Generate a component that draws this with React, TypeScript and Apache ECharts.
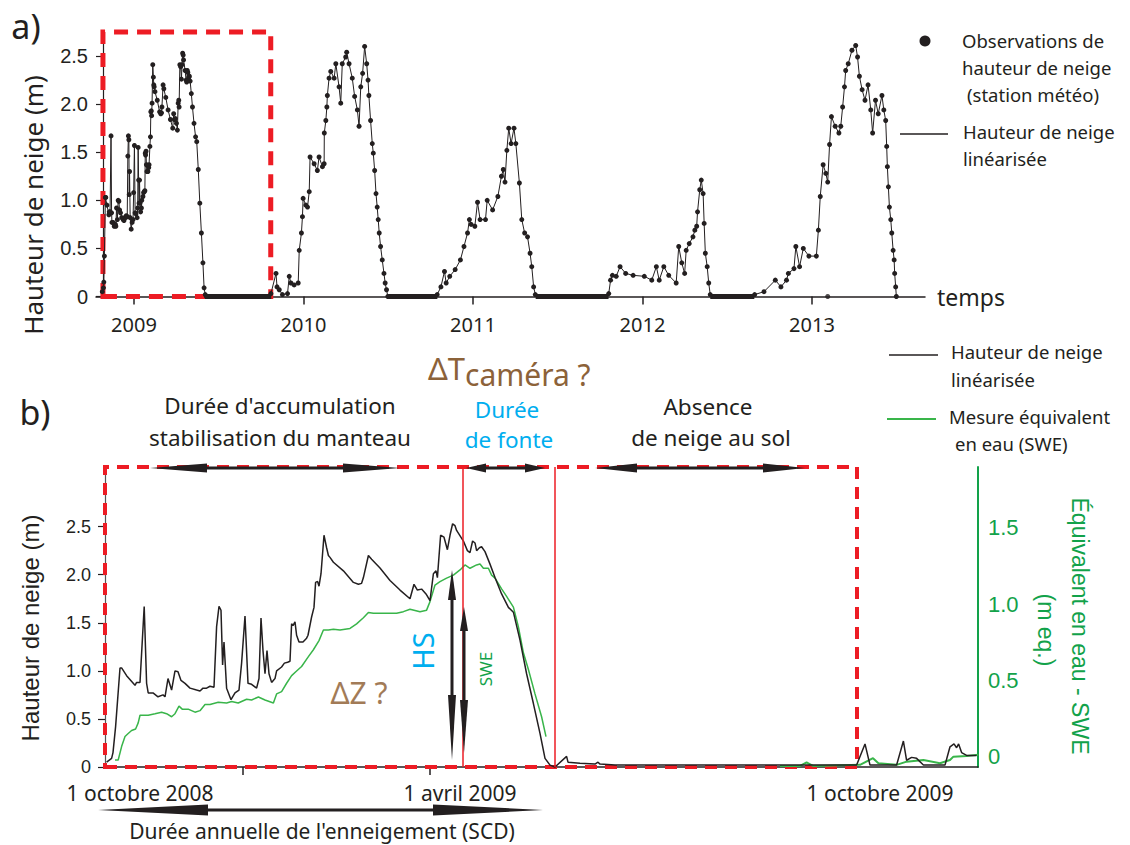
import React, { useEffect, useRef } from "react";
import * as echarts from "echarts";

// ---------- Panel b data (days from 1 Jan 2009) ----------
const hsDays = [-68.2, -65.7, -65, -63.7, -61.5, -60.7, -58.2, -54, -53.2, -51.5, -49.4, -48.2, -47.4, -45, -42.5, -40, -39, -37.5, -35.7, -34, -32.5, -31, -29, -26.5, -23.2, -21.5, -20, -18.2, -16.5, -14.5, -13.2, -12, -11, -10.2, -9.5, -8.2, -6, -4, -2, -0.7, 1, 2.5, 4.3, 6.8, 8, 9, 10, 11, 12, 13, 14.3, 16, 16.8, 19.3, 20.7, 22.3, 23.5, 24.3, 25, 26, 26.8, 28, 30, 31.8, 32.5, 34.3, 35.5, 36.3, 37.3, 38, 39, 40.5, 41.8, 42.7, 43.5, 45.2, 50.2, 55.2, 57.7, 59.3, 60.2, 62.7, 64.3, 68.5, 73.5, 78.5, 83.5, 85.5, 87.2, 89.3, 91.5, 93.5, 95.2, 96.5, 97.2, 98.8, 100.5, 102.2, 103.5, 104.8, 106, 106.8, 110.2, 112.2, 113.5, 114.8, 116, 116.8, 118.2, 119.3, 121, 123.5, 126, 129.3, 132.7, 135.2, 138.5, 141.8, 145.2, 148.5, 151, 153.5, 156, 161.8, 162.5, 168.5, 176, 177.5, 178.5, 186, 228.5, 278.5, 306.8, 311, 313.5, 326.8, 330.2, 331.8, 334.3, 336.8, 340.2, 351, 353.5, 355.5, 356.8, 357.8, 359.3, 361.8, 366.8];
const hsValues = [0.05, 0.09, 0.15, 0.42, 1.03, 1.03, 0.95, 0.85, 0.88, 0.88, 1.67, 0.87, 0.77, 0.77, 0.73, 0.75, 0.73, 0.92, 0.8, 1.0, 0.99, 0.9, 0.87, 0.82, 0.8, 0.79, 0.82, 0.82, 0.84, 0.83, 1.46, 1.67, 1.63, 1.06, 1.3, 0.82, 0.7, 0.77, 0.8, 1.08, 1.57, 0.87, 0.86, 0.82, 0.92, 1.55, 1.21, 0.97, 1.21, 0.97, 0.88, 0.92, 1.0, 1.04, 1.08, 1.09, 1.1, 1.49, 1.47, 1.51, 1.37, 1.3, 1.3, 1.34, 1.37, 1.56, 1.66, 1.92, 1.93, 1.88, 2.01, 2.41, 2.28, 2.2, 2.18, 2.13, 2.04, 1.92, 1.9, 1.91, 1.97, 2.2, 2.16, 2.07, 1.94, 1.84, 1.75, 1.9, 1.84, 1.85, 1.8, 1.73, 2.01, 2.04, 1.97, 2.41, 2.39, 2.26, 2.41, 2.53, 2.51, 2.46, 2.35, 2.25, 2.23, 2.35, 2.33, 2.25, 2.28, 2.29, 2.24, 2.11, 1.97, 1.8, 1.66, 1.61, 1.32, 0.97, 0.66, 0.35, 0.09, 0.02, 0, 0.11, 0.05, 0.04, 0.03, 0.05, 0.03, 0.02, 0.02, 0.02, 0.02, 0.24, 0.02, 0.02, 0.27, 0.07, 0.1, 0.09, 0.02, 0.02, 0.21, 0.24, 0.2, 0.24, 0.15, 0.12, 0.12];

const sweDaysWinter = [-64, -62.4, -60.7, -59, -57.4, -55.7, -53.7, -52.4, -51.5, -47.4, -44, -40.7, -38.2, -35.7, -34, -32, -30.4, -27.4, -24, -21.5, -19, -16.5, -12.4, -8.2, -5.7, -2.4, 1.8, 4.3, 7.7, 11, 15.2, 16.8, 19.3, 21.8, 24.3, 26.8, 29.3, 32.7, 35.2, 38, 40.2, 42.7, 45.2, 48.5, 53.5, 56.8, 60.2, 62.7, 65.2, 71.8, 76.8, 80.2, 83.5, 88.5, 91.8, 93.5, 96, 98.5, 101.8, 105.2, 108.5, 111, 113.5, 116.8, 118.5, 120.2, 122.7, 124.3, 126, 129.3, 131.8, 135.2, 137.7, 140.2, 142.7, 146, 149.3, 151.5];
const sweValuesWinter = [-0.024, -0.024, 0.064, 0.13, 0.15, 0.17, 0.18, 0.22, 0.27, 0.27, 0.28, 0.29, 0.28, 0.26, 0.28, 0.33, 0.31, 0.31, 0.29, 0.3, 0.34, 0.34, 0.355, 0.35, 0.36, 0.35, 0.375, 0.37, 0.39, 0.37, 0.35, 0.41, 0.425, 0.48, 0.53, 0.56, 0.59, 0.655, 0.7, 0.76, 0.83, 0.83, 0.835, 0.83, 0.84, 0.87, 0.91, 0.945, 0.94, 0.94, 0.94, 0.95, 0.966, 0.95, 0.96, 1.016, 1.125, 1.147, 1.17, 1.19, 1.224, 1.257, 1.235, 1.257, 1.263, 1.235, 1.235, 1.19, 1.17, 1.1, 1.05, 0.98, 0.85, 0.68, 0.57, 0.41, 0.26, 0.13];
const sweDaysAutumn = [268.5, 278.5, 281.8, 285, 308.5, 315, 317.7, 326.8, 331.8, 340.2, 348.5, 353.5, 355.2, 361.8, 367.7];
const sweValuesAutumn = [-0.063, -0.063, -0.04, -0.063, -0.056, -0.012, -0.045, -0.056, -0.035, -0.024, -0.045, -0.024, -0.002, 0.003, 0.01];

const hsTicks = [0, 0.5, 1, 1.5, 2, 2.5];
const sweTicks = [0, 0.5, 1, 1.5];
const bTickDays = [0, 93.5];
const bLabelDays = [-51.5, 108.5, 318.5];
const bLabelTexts = ["1 octobre 2008", "1 avril 2009", "1 octobre 2009"];
const bBoxDays = [-69, 307];
const bPhaseLines = [110, 156];

// ---------- Panel a data (decimal years) ----------
const yearTicks = [2009, 2010, 2011, 2012, 2013];
const topBoxYears = [2008.817, 2009.807];

const season2010: [number, number][] = [
  [2009.808, 0.03], [2009.838, 0.24], [2009.844, 0.1], [2009.857, 0.07], [2009.876, 0.02], [2009.906, 0.03], [2009.916, 0.21], [2009.926, 0.14], [2009.945, 0.12], [2009.969, 0.14], [2009.975, 0.48], [2009.988, 0.66], [2009.994, 0.83], [2009.998, 1.02], [2010.014, 0.95], [2010.024, 0.93], [2010.034, 1.09], [2010.039, 1.45], [2010.063, 1.38], [2010.082, 1.31], [2010.092, 1.45], [2010.112, 1.35], [2010.122, 1.38], [2010.123, 1.7], [2010.132, 1.83], [2010.138, 1.97], [2010.141, 2.09], [2010.151, 2.27], [2010.161, 2.34], [2010.181, 2.27], [2010.191, 2.42], [2010.21, 2.18], [2010.22, 2.01], [2010.229, 2.42], [2010.249, 2.49], [2010.255, 2.54], [2010.269, 2.42], [2010.288, 2.27], [2010.302, 2.08], [2010.318, 1.94], [2010.328, 1.77], [2010.338, 2.18], [2010.349, 2.32], [2010.361, 2.6], [2010.373, 2.42], [2010.381, 2.25], [2010.386, 2.09], [2010.396, 1.83], [2010.406, 1.59], [2010.412, 1.49], [2010.42, 1.31], [2010.428, 1.07], [2010.435, 0.93], [2010.441, 0.8], [2010.447, 0.66], [2010.455, 0.52], [2010.465, 0.38], [2010.475, 0.24], [2010.482, 0.14], [2010.49, 0.07], [2010.498, 0],
];
const season2011: [number, number][] = [
  [2010.789, 0.02], [2010.811, 0.1], [2010.832, 0.26], [2010.842, 0.14], [2010.863, 0.21], [2010.895, 0.28], [2010.926, 0.38], [2010.947, 0.52], [2010.968, 0.66], [2010.979, 0.8], [2010.989, 0.75], [2011.011, 0.73], [2011.027, 0.98], [2011.042, 0.8], [2011.074, 0.8], [2011.084, 1.0], [2011.116, 0.9], [2011.147, 1.04], [2011.168, 1.25], [2011.179, 1.32], [2011.189, 1.19], [2011.2, 1.52], [2011.211, 1.75], [2011.225, 1.59], [2011.242, 1.75], [2011.253, 1.59], [2011.274, 1.18], [2011.288, 0.8], [2011.305, 0.66], [2011.322, 0.62], [2011.337, 0.45], [2011.347, 0.31], [2011.358, 0.1], [2011.368, 0.02],
];
const season2012: [number, number][] = [
  [2011.801, 0.03], [2011.812, 0.17], [2011.823, 0.22], [2011.845, 0.21], [2011.868, 0.31], [2011.901, 0.24], [2011.945, 0.22], [2012.011, 0.21], [2012.055, 0.17], [2012.082, 0.31], [2012.099, 0.17], [2012.126, 0.31], [2012.155, 0.22], [2012.199, 0.14], [2012.214, 0.52], [2012.232, 0.35], [2012.249, 0.24], [2012.258, 0.48], [2012.276, 0.55], [2012.298, 0.62], [2012.309, 0.69], [2012.32, 0.73], [2012.325, 0.88], [2012.338, 1.11], [2012.347, 1.21], [2012.358, 1.07], [2012.364, 0.76], [2012.371, 0.45], [2012.382, 0.31], [2012.391, 0.14], [2012.4, 0.02],
];
const season2013: [number, number][] = [
  [2012.662, 0.02], [2012.717, 0.05], [2012.784, 0.17], [2012.817, 0.1], [2012.85, 0.17], [2012.861, 0.24], [2012.894, 0.29], [2012.905, 0.52], [2012.927, 0.31], [2012.949, 0.5], [2012.982, 0.42], [2013.026, 0.42], [2013.038, 0.69], [2013.049, 1.04], [2013.066, 1.37], [2013.082, 1.28], [2013.093, 1.19], [2013.104, 1.58], [2013.115, 1.87], [2013.137, 1.77], [2013.159, 1.7], [2013.17, 1.77], [2013.181, 1.97], [2013.192, 2.18], [2013.199, 2.35], [2013.214, 2.42], [2013.236, 2.56], [2013.258, 2.61], [2013.269, 2.49], [2013.28, 2.29], [2013.296, 2.15], [2013.313, 2.04], [2013.331, 2.2], [2013.347, 1.94], [2013.358, 1.7], [2013.375, 2.04], [2013.391, 1.9], [2013.413, 2.09], [2013.424, 1.94], [2013.435, 1.83], [2013.441, 1.56], [2013.445, 1.35], [2013.451, 1.14], [2013.457, 0.93], [2013.465, 0.8], [2013.471, 0.66], [2013.479, 0.48], [2013.485, 0.38], [2013.488, 0.24], [2013.494, 0.1], [2013.498, 0],
];
const isolatedObs: [number, number][] = [[2013.093, 0]];
const zeroRuns: [number, number][] = [
  [2009.42, 2009.81], [2010.5, 2010.79], [2011.37, 2011.8], [2012.4, 2012.66],
];

const INK = "#231f20";
const RED = "#ed1c24";
const GREEN_LINE = "#39b54a";
const GREEN_AXIS = "#12a24a";
const BLUE = "#00aeef";
const BROWN = "#8c6239";
const MYRIAD = '"Noto Sans", sans-serif';
const ARIAL = '"Liberation Sans", Arial, sans-serif';

function txt(text: string, x: number, y: number, size: number, opts: any = {}) {
  return {
    type: "text",
    x,
    y,
    rotation: opts.rotation || 0,
    silent: true,
    z: 100,
    style: {
      text,
      fill: opts.color || INK,
      fontSize: size,
      fontFamily: opts.font || MYRIAD,
      textAlign: opts.align || "center",
      textVerticalAlign: "middle",
      verticalAlign: "middle",
    },
  };
}

function hArrow(x1: number, x2: number, y: number, head: number, half: number, w = 3) {
  return {
    type: "group",
    silent: true,
    z: 100,
    children: [
      { type: "line", z: 100, shape: { x1: x1 + head * 0.5, y1: y, x2: x2 - head * 0.5, y2: y }, style: { stroke: INK, lineWidth: w } },
      { type: "polygon", z: 100, shape: { points: [[x1, y], [x1 + head, y - half], [x1 + head, y + half]] }, style: { fill: INK } },
      { type: "polygon", z: 100, shape: { points: [[x2, y], [x2 - head, y - half], [x2 - head, y + half]] }, style: { fill: INK } },
    ],
  };
}

function vArrow(x: number, y1: number, y2: number, headTop: number, headBot: number, half: number, w = 3) {
  return {
    type: "group",
    silent: true,
    z: 100,
    children: [
      { type: "line", z: 100, shape: { x1: x, y1: y1 + headTop * 0.5, x2: x, y2: y2 - headBot * 0.5 }, style: { stroke: INK, lineWidth: w } },
      { type: "polygon", z: 100, shape: { points: [[x, y1], [x - half, y1 + headTop], [x + half, y1 + headTop]] }, style: { fill: INK } },
      { type: "polygon", z: 100, shape: { points: [[x, y2], [x - half, y2 - headBot], [x + half, y2 - headBot]] }, style: { fill: INK } },
    ],
  };
}

export default function App() {
  const ref = useRef<HTMLDivElement>(null);

  useEffect(() => {
    if (!ref.current) return;
    const chart = echarts.init(ref.current, undefined, { renderer: "svg" });

    const season2009 = hsDays
      .map((d, i) => [2009 + d / 365, hsValues[i]] as [number, number])
      .filter((p, i) => hsDays[i] <= 156);
    const topSeasons = [season2009, season2010, season2011, season2012, season2013];

    const hsPairs = hsDays.map((d, i) => [d, hsValues[i]]);
    const sweWinter = sweDaysWinter.map((d, i) => [d, sweValuesWinter[i]]);
    const sweAutumn = sweDaysAutumn.map((d, i) => [d, sweValuesAutumn[i]]);

    const boxStyle = (w: number, dash: number[]) => ({
      color: "rgba(0,0,0,0)",
      borderColor: RED,
      borderWidth: w,
      borderType: dash,
    });

    const series: any[] = [];
    topSeasons.forEach((s, k) => {
      series.push({
        type: "line",
        xAxisIndex: 0,
        yAxisIndex: 0,
        data: s,
        symbol: "circle",
        symbolSize: 5,
        showAllSymbol: true,
        itemStyle: { color: INK },
        lineStyle: { color: INK, width: 1 },
        clip: false,
        silent: true,
        z: 3,
        markArea:
          k === 0
            ? {
                silent: true,
                itemStyle: boxStyle(5, [14, 9]),
                data: [[{ xAxis: topBoxYears[0], yAxis: 0 }, { xAxis: topBoxYears[1], yAxis: 2.75 }]],
              }
            : undefined,
      });
    });
    series.push({
      type: "scatter",
      xAxisIndex: 0,
      yAxisIndex: 0,
      data: isolatedObs,
      symbolSize: 5,
      itemStyle: { color: INK },
      silent: true,
    });
    zeroRuns.forEach((r) => {
      series.push({
        type: "line",
        xAxisIndex: 0,
        yAxisIndex: 0,
        data: [[r[0], 0], [r[1], 0]],
        symbol: "none",
        lineStyle: { color: INK, width: 5 },
        clip: false,
        silent: true,
      });
    });

    series.push({
      type: "line",
      xAxisIndex: 1,
      yAxisIndex: 1,
      data: hsPairs,
      symbol: "none",
      lineStyle: { color: INK, width: 1.5 },
      silent: true,
      clip: false,
      z: 4,
      markArea: {
        silent: true,
        itemStyle: boxStyle(4, [12, 8]),
        data: [[{ xAxis: bBoxDays[0], yAxis: 0 }, { xAxis: bBoxDays[1], yAxis: 3.12 }]],
      },
      markLine: {
        silent: true,
        symbol: ["none", "none"],
        label: { show: false },
        lineStyle: { color: RED, width: 1.5, type: "solid" },
        data: bPhaseLines.map((d) => ({ xAxis: d })),
      },
    });
    series.push({
      type: "line",
      xAxisIndex: 1,
      yAxisIndex: 2,
      data: sweWinter,
      symbol: "none",
      lineStyle: { color: GREEN_LINE, width: 1.5 },
      silent: true,
      z: 3,
    });
    series.push({
      type: "line",
      xAxisIndex: 1,
      yAxisIndex: 2,
      data: sweAutumn,
      symbol: "none",
      lineStyle: { color: GREEN_LINE, width: 2 },
      silent: true,
      z: 3,
    });

    const graphic: any[] = [
      txt("a)", 26, 26, 34),
      txt("b)", 35, 412, 34),
      txt("Hauteur de neige (m)", 33, 205, 26, { rotation: Math.PI / 2 }),
      // legend a
      { type: "circle", shape: { cx: 925, cy: 41, r: 5.5 }, style: { fill: INK }, silent: true },
      txt("Observations de", 962, 40, 18.5, { align: "left" }),
      txt("hauteur de neige", 962, 67, 18.5, { align: "left" }),
      txt("(station météo)", 967, 94, 18.5, { align: "left" }),
      { type: "line", shape: { x1: 900, y1: 134, x2: 948, y2: 134 }, style: { stroke: INK, lineWidth: 1.3 }, silent: true },
      txt("Hauteur de neige", 963, 131, 18.5, { align: "left" }),
      txt("linéarisée", 963, 158, 18.5, { align: "left" }),
      // legend b
      { type: "line", shape: { x1: 889, y1: 355, x2: 938, y2: 355 }, style: { stroke: INK, lineWidth: 1.5 }, silent: true },
      txt("Hauteur de neige", 951, 351, 18.5, { align: "left" }),
      txt("linéarisée", 951, 379, 18.5, { align: "left" }),
      { type: "line", shape: { x1: 887, y1: 419, x2: 936, y2: 419 }, style: { stroke: GREEN_LINE, lineWidth: 2 }, silent: true },
      txt("Mesure équivalent", 949, 416, 18.5, { align: "left" }),
      txt("en eau (SWE)", 955, 443, 18.5, { align: "left" }),
      // phase annotations
      txt("ΔT", 428, 368, 31, { align: "left", color: BROWN }),
      txt("caméra ?", 465, 374, 30, { align: "left", color: BROWN }),
      txt("Durée d'accumulation", 280, 405, 22.5),
      txt("stabilisation du manteau", 280, 437, 22.5),
      txt("Durée", 507, 409, 22.5, { color: BLUE }),
      txt("de fonte", 509, 439, 22.5, { color: BLUE }),
      txt("Absence", 708, 406, 22.5),
      txt("de neige au sol", 711, 437, 22.5),
      hArrow(150, 400, 468, 57, 4.5),
      hArrow(466, 545, 468, 20, 4.5),
      hArrow(595, 805, 468, 42, 4.5),
      vArrow(452, 570, 760, 30, 65, 4),
      vArrow(464, 607, 753, 24, 53, 4),
      txt("HS", 422, 651, 29, { rotation: Math.PI / 2, color: BLUE }),
      txt("SWE", 485, 669, 17, { rotation: Math.PI / 2, color: GREEN_AXIS }),
      txt("ΔZ ?", 359, 692, 30, { color: "#a27b57" }),
      txt("Hauteur de neige (m)", 30, 628, 24, { rotation: Math.PI / 2, font: ARIAL }),
      txt("Équivalent en eau - SWE", 1080, 626, 23, { rotation: -Math.PI / 2, font: ARIAL, color: GREEN_AXIS }),
      txt("(m eq.)", 1046, 630, 23, { rotation: -Math.PI / 2, font: ARIAL, color: GREEN_AXIS }),
      hArrow(98, 543, 810, 110, 5.5),
      txt("Durée annuelle de l'enneigement (SCD)", 322, 831, 21),
    ];

    chart.setOption({
      animation: false,
      backgroundColor: "#ffffff",
      grid: [
        { left: 96, top: 32, width: 829, height: 264.5 },
        { left: 105, top: 467, width: 873, height: 300 },
      ],
      xAxis: [
        {
          type: "value",
          gridIndex: 0,
          min: 2008.776,
          max: 2013.667,
          splitLine: { show: false },
          axisLine: { onZero: false, lineStyle: { color: INK, width: 1.5 } },
          axisTick: { customValues: yearTicks, length: 8, lineStyle: { color: INK, width: 1.5 } },
          axisLabel: {
            customValues: yearTicks,
            formatter: (v: number) => String(Math.round(v)),
            fontSize: 20,
            fontFamily: MYRIAD,
            color: INK,
            margin: 18,
          },
          name: "temps",
          nameLocation: "end",
          nameGap: 12,
          nameTextStyle: { fontSize: 23, fontFamily: MYRIAD, color: INK, verticalAlign: "middle" },
        },
        {
          type: "value",
          gridIndex: 1,
          min: -69,
          max: 367.5,
          splitLine: { show: false },
          axisLine: { onZero: false, lineStyle: { color: INK, width: 1.5 } },
          axisTick: { customValues: bTickDays, length: 8, lineStyle: { color: INK, width: 1.5 } },
          axisLabel: {
            customValues: bLabelDays,
            formatter: (v: number) => {
              let best = 0;
              bLabelDays.forEach((d, i) => {
                if (Math.abs(d - v) < Math.abs(bLabelDays[best] - v)) best = i;
              });
              return bLabelTexts[best];
            },
            fontSize: 21,
            fontFamily: MYRIAD,
            color: INK,
            margin: 15,
          },
        },
      ],
      yAxis: [
        {
          type: "value",
          gridIndex: 0,
          min: 0,
          max: 2.75,
          offset: -7,
          splitLine: { show: false },
          axisLine: { show: true, onZero: false, lineStyle: { color: INK, width: 1.2 } },
          axisTick: { show: true, customValues: hsTicks, length: 7, lineStyle: { color: INK, width: 1.2 } },
          axisLabel: {
            customValues: hsTicks,
            formatter: (v: number) => (v === 0 ? "0" : v.toFixed(1)),
            fontSize: 20,
            fontFamily: ARIAL,
            color: INK,
            margin: 15,
          },
        },
        {
          type: "value",
          gridIndex: 1,
          min: 0,
          max: 3.12,
          splitLine: { show: false },
          axisLine: { show: true, onZero: false, lineStyle: { color: "#555", width: 1.2 } },
          axisTick: { show: true, customValues: hsTicks, length: 7, lineStyle: { color: INK, width: 1.2 } },
          axisLabel: {
            customValues: hsTicks,
            formatter: (v: number) => (v === 0 ? "0" : v.toFixed(1)),
            fontSize: 18,
            fontFamily: ARIAL,
            color: INK,
            margin: 14,
          },
        },
        {
          type: "value",
          gridIndex: 1,
          position: "right",
          min: -0.07,
          max: 1.9,
          splitLine: { show: false },
          axisLine: { show: true, onZero: false, lineStyle: { color: GREEN_AXIS, width: 2 } },
          axisTick: { show: false },
          axisLabel: {
            customValues: sweTicks,
            formatter: (v: number) => (v === 0 ? "0" : v.toFixed(1)),
            fontSize: 22,
            fontFamily: ARIAL,
            color: GREEN_AXIS,
            margin: 10,
          },
        },
      ],
      series,
      graphic,
    });

    return () => chart.dispose();
  }, []);

  return <div ref={ref} style={{ position: "absolute", left: 0, top: 0, width: 1130, height: 845 }} />;
}
